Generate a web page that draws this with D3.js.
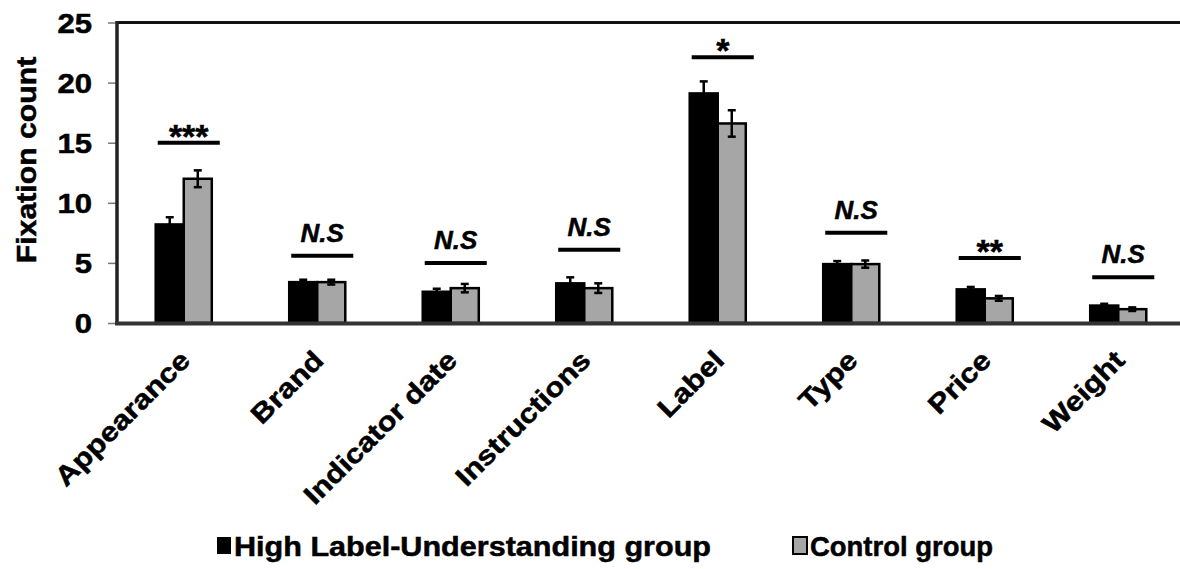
<!DOCTYPE html>
<html><head><meta charset="utf-8">
<script src="https://cdnjs.cloudflare.com/ajax/libs/d3/7.8.5/d3.min.js"></script>
<style>body{margin:0;background:#fff}svg{display:block}text{font-family:"Liberation Sans",Arial,sans-serif;font-weight:bold;fill:#000;stroke:#000;stroke-width:0.5px}</style>
</head><body><svg id="c" width="1180" height="569"></svg>
<script>
const categories = ["Appearance","Brand","Indicator date","Instructions","Label","Type","Price","Weight"];
const highValues = [8.2, 3.4, 2.6, 3.3, 19.1, 4.9, 2.8, 1.45];
const highErrors = [0.6, 0.2, 0.25, 0.5, 1.0, 0.25, 0.2, 0.15];
const controlValues = [12.0, 3.4, 2.9, 2.9, 16.6, 4.9, 2.05, 1.15];
const controlErrors = [0.7, 0.2, 0.35, 0.4, 1.1, 0.3, 0.2, 0.15];
const sigLevels = [15.0, 5.6, 5.0, 6.1, 22.1, 7.5, 5.4, 3.8];
const sigLabels = ["***","N.S","N.S","N.S","*","N.S","**","N.S"];
const yTicks = [0,5,10,15,20,25];
const seriesNames = ["High Label-Understanding group","Control group"];
const seriesColors = ["#000000","#a6a6a6"];

const svg = d3.select("#c");
const x = d3.scaleBand().domain(categories).range([117,1185]).paddingInner(0.58).paddingOuter(0.29);
const sub = d3.scaleBand().domain([0,1]).range([0,x.bandwidth()]);
const y = d3.scaleLinear().domain([0,25]).range([323,22.5]);

function stretch(sel,k){ sel.each(function(){ const l=this.getComputedTextLength(); d3.select(this).attr("textLength",l*k).attr("lengthAdjust","spacingAndGlyphs"); }); return sel; }

// y axis ticks
const ya = svg.append("g").attr("transform","translate(117,0)")
  .call(d3.axisLeft(y).tickValues(yTicks).tickSize(9).tickPadding(16));
ya.select(".domain").remove();
ya.selectAll(".tick line").attr("stroke","#777").attr("stroke-width",1.5);
ya.selectAll(".tick text").attr("font-size",27).attr("font-family","Liberation Sans, Arial, sans-serif").attr("font-weight","bold").attr("fill","#000").attr("dy","0.36em");
stretch(ya.selectAll(".tick text"),1.15);

// y title
const yt = svg.append("text").attr("transform","translate(36,160) rotate(-90)").attr("text-anchor","middle").attr("font-size",27).text("Fixation count");
stretch(yt,1.12);

// bars
const data = categories.map((c,i)=>({c,i,vals:[highValues[i],controlValues[i]],errs:[highErrors[i],controlErrors[i]]}));
const g = svg.append("g");
data.forEach(d=>{
  [0,1].forEach(s=>{
    const bx = x(d.c)+sub(s), bw=sub.bandwidth();
    g.append("rect").attr("x",bx).attr("y",y(d.vals[s])).attr("width",bw).attr("height",y(0)-y(d.vals[s]))
      .attr("fill",seriesColors[s]).attr("stroke","#000").attr("stroke-width",2.5);
  });
});
data.forEach(d=>{
  [0,1].forEach(s=>{
    const cx = x(d.c)+sub(s)+sub.bandwidth()/2;
    const top=y(d.vals[s]+d.errs[s]), bot=y(d.vals[s]-d.errs[s]);
    g.append("line").attr("x1",cx).attr("x2",cx).attr("y1",top).attr("y2",bot).attr("stroke","#000").attr("stroke-width",2.5);
    [top,bot].forEach(yy=>g.append("line").attr("x1",cx-4).attr("x2",cx+4).attr("y1",yy).attr("y2",yy).attr("stroke","#000").attr("stroke-width",2.5));
  });
});

// significance
data.forEach(d=>{
  const x0 = x(d.c)+2, x1 = x(d.c)+x.bandwidth()+8, yy=y(sigLevels[d.i]);
  g.append("line").attr("x1",x0).attr("x2",x1).attr("y1",yy).attr("y2",yy).attr("stroke","#000").attr("stroke-width",4);
  const lab = sigLabels[d.i];
  if(lab==="N.S"){
    g.append("text").attr("x",(x0+x1)/2).attr("y",yy-14).attr("text-anchor","middle").attr("font-size",26).attr("font-style","italic").text(lab);
  } else {
    g.append("text").attr("x",(x0+x1)/2).attr("y",yy+5).attr("text-anchor","middle").attr("font-size",34).attr("stroke-width",0.2).text(lab);
  }
});

// frame
svg.append("line").attr("x1",117).attr("x2",1180).attr("y1",22.5).attr("y2",22.5).attr("stroke","#111").attr("stroke-width",3);
svg.append("line").attr("x1",117).attr("x2",117).attr("y1",21).attr("y2",324).attr("stroke","#222").attr("stroke-width",3.5);
svg.append("line").attr("x1",115).attr("x2",1180).attr("y1",323.5).attr("y2",323.5).attr("stroke","#333").attr("stroke-width",4);

// x labels
categories.forEach(c=>{
  const t = svg.append("text").attr("transform",`translate(${x(c)+x.bandwidth()/2+8},362) rotate(-45)`).attr("text-anchor","end").attr("font-size",27).text(c);
  stretch(t,1.15);
});

// legend
const lx=[217,793];
const legendLen=[477,183];
seriesNames.forEach((n,s)=>{
  svg.append("rect").attr("x",lx[s]).attr("y",537).attr("width",14).attr("height",17).attr("fill",seriesColors[s]).attr("stroke","#000").attr("stroke-width",s?2:0);
  svg.append("text").attr("x",lx[s]+17).attr("y",556).attr("font-size",27).attr("textLength",legendLen[s]).attr("lengthAdjust","spacingAndGlyphs").text(n);
});
</script></body></html>
